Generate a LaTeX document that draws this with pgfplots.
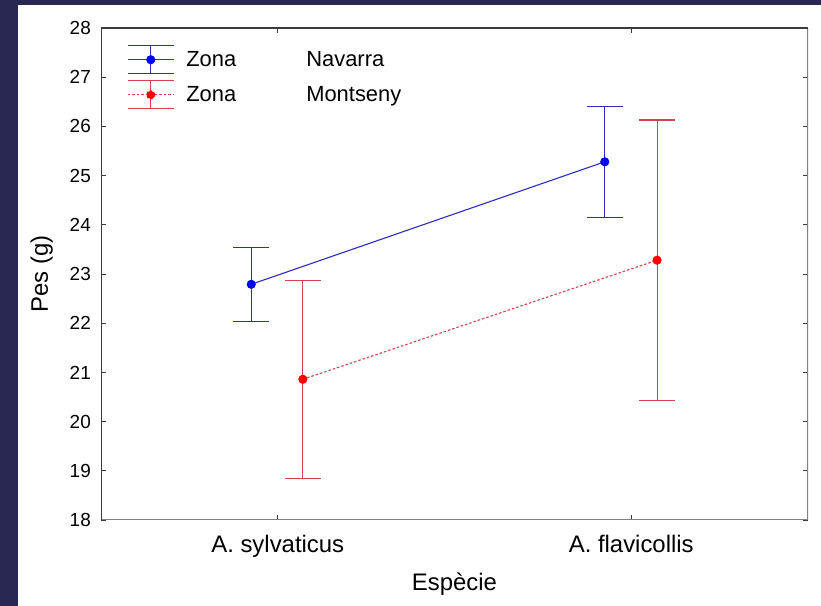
\documentclass[border=0pt]{standalone}
\usepackage{pgfplots}
\pgfplotsset{compat=1.18}
\usepackage{fontspec}
\setmainfont{Liberation Sans}
\definecolor{bgnavy}{RGB}{40,40,82}
\definecolor{blueline}{RGB}{45,45,190}
\definecolor{bluemark}{RGB}{0,0,255}
\definecolor{redline}{RGB}{205,70,78}
\definecolor{redmark}{RGB}{255,0,0}
\definecolor{axdark}{RGB}{60,60,60}
\definecolor{axgray}{RGB}{130,130,130}
\begin{document}
\begin{tikzpicture}[x=1bp,y=1bp]
\fill[bgnavy] (0,0) rectangle (821,606);
\fill[white] (18,0) rectangle (821,601);
\useasboundingbox (0,0) rectangle (821,606);
\begin{axis}[
  at={(101bp,86bp)}, anchor=south west,
  scale only axis, width=707bp, height=492bp,
  xmin=-0.5, xmax=1.5, ymin=18, ymax=28,
  xtick={0,1}, xticklabels={A. sylvaticus, A. flavicollis},
  ytick={18,19,...,28},
  tick align=inside, major tick length=5bp,
  tick style={axdark, line width=0.6bp},
  axis line style={draw=none},
  unbounded coords=jump,
  /pgf/number format/assume math mode=true,
  ticklabel style={font=\fontsize{19}{22}\selectfont},
  yticklabel style={anchor=east, inner sep=0pt, xshift=-10bp},
  xticklabel style={font=\fontsize{24}{28}\selectfont, anchor=north, inner sep=0pt, yshift=-15bp},
  xlabel={Espècie}, ylabel={Pes (g)},
  label style={font=\fontsize{24}{28}\selectfont},
  xlabel style={at={(axis description cs:0.5,0)}, anchor=north, inner sep=0pt, yshift=-53bp},
  ylabel style={at={(axis description cs:0,0.5)}, anchor=south, inner sep=0pt, yshift=48bp},
  legend style={draw=none, fill=none, at={(rel axis cs:0,1)}, anchor=north west,
    xshift=26bp, yshift=-17bp, inner sep=0pt, row sep=6bp,
    font=\fontsize{22}{26}\selectfont,
    nodes={inner sep=0pt, anchor=west},
    /tikz/every odd column/.append style={column sep=12bp}},
  legend cell align=left,
]
% error bars (blue): mean 22.79 +- 0.75, 25.28 +- 1.13
\addplot[blueline, line width=1.1bp, mark=none, forget plot] coordinates {
  (-0.126,23.54) (-0.024,23.54) (nan,nan)
  (-0.075,23.54) (-0.075,22.04) (nan,nan)
  (-0.126,22.04) (-0.024,22.04) (nan,nan)
  (0.874,26.41) (0.976,26.41) (nan,nan)
  (0.925,26.41) (0.925,24.15) (nan,nan)
  (0.874,24.15) (0.976,24.15)
};
% error bars (red): mean 20.86 +- 2.01, 23.28 +- 2.85
\addplot[redline, line width=1.1bp, mark=none, forget plot] coordinates {
  (0.020,22.87) (0.122,22.87) (nan,nan)
  (0.071,22.87) (0.071,18.85) (nan,nan)
  (0.020,18.85) (0.122,18.85) (nan,nan)
  (1.022,26.13) (1.124,26.13) (nan,nan)
  (1.073,26.13) (1.073,20.43) (nan,nan)
  (1.022,20.43) (1.124,20.43)
};
% lines and markers
\addplot[blueline, line width=1.1bp, mark=*, mark size=4bp,
  mark options={draw=bluemark, fill=bluemark, solid},
  legend image code/.code={
    \draw[blueline, line width=1.1bp] (0bp,0bp) -- (46bp,0bp);
    \draw[blueline, line width=1.1bp] (23bp,-14bp) -- (23bp,14bp);
    \draw[blueline, line width=1.1bp] (0bp,14bp) -- (46bp,14bp);
    \draw[blueline, line width=1.1bp] (0bp,-14bp) -- (46bp,-14bp);
    \fill[bluemark] (23bp,0bp) circle (4bp);
  }] coordinates {
  (-0.075,22.79)
  (0.925,25.28)
};
\addlegendentry{\makebox[120bp][l]{Zona}Navarra}
\addplot[redline, line width=1.1bp, dash pattern=on 2.5bp off 2bp, mark=*, mark size=4bp,
  mark options={draw=redmark, fill=redmark, solid},
  legend image code/.code={
    \draw[redline, line width=1.1bp, dash pattern=on 2.5bp off 2bp] (0bp,0bp) -- (46bp,0bp);
    \draw[redline, line width=1.1bp, solid] (23bp,-14bp) -- (23bp,14bp);
    \draw[redline, line width=1.1bp, solid] (0bp,14bp) -- (46bp,14bp);
    \draw[redline, line width=1.1bp, solid] (0bp,-14bp) -- (46bp,-14bp);
    \fill[redmark] (23bp,0bp) circle (4bp);
  }] coordinates {
  (0.071,20.86)
  (1.073,23.28)
};
\addlegendentry{\makebox[120bp][l]{Zona}Montseny}
\draw[axgray, line width=2bp] (rel axis cs:0,0) -- (rel axis cs:1,0) -- (rel axis cs:1,1);
\draw[axdark, line width=1.2bp] (rel axis cs:0,0) -- (rel axis cs:0,1) -- (rel axis cs:1,1);
\end{axis}
\end{tikzpicture}
\end{document}
